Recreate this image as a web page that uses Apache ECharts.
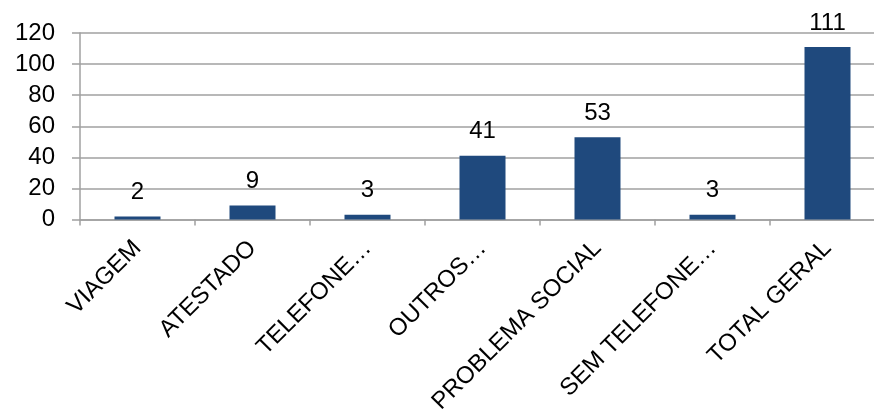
<!DOCTYPE html>
<html><head><meta charset="utf-8">
<script src="https://cdn.jsdelivr.net/npm/echarts@6/dist/echarts.min.js"></script>
<style>html,body{margin:0;padding:0;background:#fff}#c{width:874px;height:409px}</style>
</head><body><div id="c"></div>
<script>
var categories = ["VIAGEM","ATESTADO","TELEFONE…","OUTROS…","PROBLEMA SOCIAL","SEM TELEFONE…","TOTAL GERAL"];
var values = [2, 9, 3, 41, 53, 3, 111];
var yMin = 0, yMax = 120, yStep = 20;

var chart = echarts.init(document.getElementById('c'), null, {renderer:'canvas'});
chart.setOption({
  animation:false,
  backgroundColor:'#fff',
  textStyle:{fontFamily:'Liberation Sans, Arial, sans-serif'},
  grid:{left:80, top:33, width:805, height:186.5, containLabel:false, outerBoundsMode:'none'},
  xAxis:{
    type:'category', data:categories,
    axisLine:{lineStyle:{color:'#a0a0a0', width:1.5}},
    axisTick:{show:true, alignWithLabel:false, length:6, lineStyle:{color:'#a0a0a0', width:1.5}},
    axisLabel:{rotate:45, interval:0, margin:25, color:'#000', fontSize:24, fontFamily:'Liberation Sans, Arial, sans-serif'}
  },
  yAxis:{
    type:'value', min:yMin, max:yMax, interval:yStep,
    axisLine:{show:true, lineStyle:{color:'#a0a0a0', width:1.5}},
    axisTick:{show:true, inside:false, length:8, lineStyle:{color:'#a0a0a0', width:1.5}},
    splitLine:{lineStyle:{color:'#a0a0a0', width:1.5}},
    axisLabel:{margin:25, color:'#000', fontSize:24, fontFamily:'Liberation Sans, Arial, sans-serif'}
  },
  series:[{
    type:'bar', data:values, barWidth:46,
    itemStyle:{color:'#1F497D'},
    label:{show:true, position:'top', distance:12, color:'#000', fontSize:24, fontFamily:'Liberation Sans, Arial, sans-serif'}
  }]
});
</script></body></html>
